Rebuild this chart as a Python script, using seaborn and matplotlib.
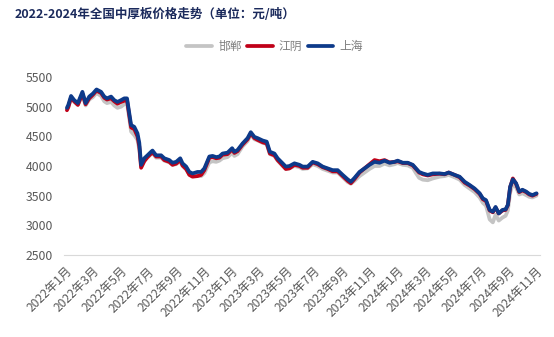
import matplotlib
matplotlib.use("Agg")
import matplotlib.pyplot as plt
import seaborn as sns
import pandas as pd

dates = [
    "2022-01-04", "2022-01-07", "2022-01-13", "2022-01-20", "2022-01-28", "2022-02-07", "2022-02-14", "2022-02-22",
    "2022-03-02", "2022-03-10", "2022-03-20", "2022-03-27", "2022-04-02", "2022-04-11", "2022-04-18", "2022-04-25",
    "2022-05-03", "2022-05-10", "2022-05-16", "2022-05-21", "2022-05-25", "2022-06-01", "2022-06-08", "2022-06-12",
    "2022-06-16", "2022-06-23", "2022-06-30", "2022-07-08", "2022-07-11", "2022-07-19", "2022-07-30", "2022-08-06",
    "2022-08-17", "2022-08-24", "2022-09-01", "2022-09-10", "2022-09-15", "2022-09-23", "2022-09-30", "2022-10-07",
    "2022-10-18", "2022-10-26", "2022-11-02", "2022-11-13", "2022-11-20", "2022-11-28", "2022-12-05", "2022-12-12",
    "2022-12-23", "2023-01-02", "2023-01-07", "2023-01-14", "2023-01-25", "2023-02-05", "2023-02-12", "2023-02-20",
    "2023-02-27", "2023-03-10", "2023-03-19", "2023-03-26", "2023-04-05", "2023-04-12", "2023-04-23", "2023-04-30",
    "2023-05-08", "2023-05-19", "2023-05-30", "2023-06-06", "2023-06-17", "2023-06-28", "2023-07-09", "2023-07-20",
    "2023-07-31", "2023-08-11", "2023-08-22", "2023-09-02", "2023-09-13", "2023-09-20", "2023-09-28", "2023-10-09",
    "2023-10-20", "2023-10-31", "2023-11-11", "2023-11-22", "2023-12-03", "2023-12-14", "2023-12-25", "2024-01-01",
    "2024-01-12", "2024-01-23", "2024-02-03", "2024-02-10", "2024-02-17", "2024-02-25", "2024-03-07", "2024-03-18",
    "2024-04-02", "2024-04-13", "2024-04-22", "2024-05-05", "2024-05-16", "2024-05-27", "2024-06-07", "2024-06-18",
    "2024-06-29", "2024-07-06", "2024-07-13", "2024-07-21", "2024-07-28", "2024-08-03", "2024-08-10", "2024-08-18",
    "2024-08-25", "2024-08-30", "2024-09-04", "2024-09-10", "2024-09-17", "2024-09-24", "2024-10-01", "2024-10-09",
    "2024-10-16", "2024-10-23", "2024-11-01",
]

shanghai = [
    4980, 5030, 5180, 5110, 5060, 5250, 5060, 5170, 5220, 5290, 5250, 5170, 5140, 5170, 5110, 5080,
    5110, 5140, 5140, 4890, 4690, 4660, 4550, 4390, 4020, 4130, 4180, 4240, 4260, 4180, 4180, 4130,
    4100, 4055, 4070, 4130, 4045, 3990, 3900, 3875, 3900, 3900, 3960, 4160, 4170, 4150, 4160, 4210,
    4225, 4300, 4240, 4270, 4380, 4470, 4570, 4490, 4470, 4430, 4410, 4240, 4210, 4130, 4045, 3990,
    4000, 4045, 4020, 3990, 3990, 4070, 4045, 3990, 3960, 3930, 3930, 3850, 3775, 3735, 3800, 3900,
    3960, 4020, 4070, 4055, 4090, 4055, 4070, 4090, 4055, 4055, 4020, 3960, 3900, 3875, 3850, 3875,
    3875, 3865, 3890, 3850, 3820, 3735, 3680, 3620, 3540, 3455, 3425, 3260, 3230, 3310, 3200, 3260,
    3270, 3345, 3650, 3775, 3710, 3570, 3600, 3570, 3530, 3510, 3540,
]

jiangyin = [
    4940, 4990, 5150, 5090, 5030, 5220, 5040, 5140, 5200, 5270, 5230, 5150, 5120, 5140, 5090, 5050,
    5080, 5100, 5110, 4850, 4650, 4620, 4500, 4330, 3970, 4080, 4150, 4210, 4230, 4160, 4160, 4100,
    4070, 4020, 4040, 4100, 4010, 3950, 3850, 3820, 3830, 3850, 3930, 4140, 4150, 4130, 4140, 4190,
    4200, 4280, 4220, 4250, 4360, 4450, 4550, 4470, 4440, 4400, 4380, 4210, 4180, 4100, 4010, 3950,
    3960, 4020, 4000, 3970, 3970, 4060, 4030, 3980, 3950, 3910, 3910, 3830, 3750, 3710, 3780, 3890,
    3960, 4030, 4100, 4080, 4100, 4060, 4070, 4080, 4050, 4050, 4010, 3950, 3890, 3860, 3840, 3860,
    3870, 3860, 3890, 3850, 3810, 3720, 3670, 3610, 3530, 3440, 3410, 3250, 3220, 3300, 3200, 3250,
    3260, 3340, 3640, 3790, 3700, 3560, 3590, 3560, 3520, 3500, 3530,
]

handan = [
    4960, 5000, 5150, 5080, 5030, 5200, 5020, 5120, 5160, 5230, 5180, 5090, 5060, 5080, 5020, 4980,
    5000, 5040, 5060, 4800, 4580, 4520, 4440, 4280, 4000, 4100, 4140, 4200, 4220, 4140, 4140, 4090,
    4060, 4020, 4030, 4080, 4000, 3940, 3860, 3830, 3840, 3830, 3880, 4060, 4080, 4070, 4090, 4130,
    4150, 4220, 4170, 4200, 4330, 4420, 4530, 4450, 4430, 4390, 4370, 4200, 4170, 4090, 4000, 3950,
    3960, 4000, 3980, 3950, 3960, 4030, 4000, 3950, 3920, 3890, 3890, 3810, 3730, 3700, 3750, 3830,
    3890, 3950, 4000, 4000, 4040, 4010, 4030, 4050, 4020, 4010, 3970, 3880, 3800, 3770, 3760, 3790,
    3820, 3830, 3850, 3810, 3770, 3680, 3620, 3560, 3470, 3380, 3330, 3100, 3050, 3180, 3080, 3130,
    3160, 3250, 3550, 3700, 3640, 3520, 3540, 3510, 3480, 3470, 3500,
]

series_names = ["邯郸", "江阴", "上海"]
series_colors = ["#C4C4C4", "#C00018", "#0D3A8A"]
tick_months = ["2022-01", "2022-03", "2022-05", "2022-07", "2022-09", "2022-11",
               "2023-01", "2023-03", "2023-05", "2023-07", "2023-09", "2023-11",
               "2024-01", "2024-03", "2024-05", "2024-07", "2024-09", "2024-11"]
tick_labels = ["2022年1月", "2022年3月", "2022年5月", "2022年7月", "2022年9月", "2022年11月",
               "2023年1月", "2023年3月", "2023年5月", "2023年7月", "2023年9月", "2023年11月",
               "2024年1月", "2024年3月", "2024年5月", "2024年7月", "2024年9月", "2024年11月"]
y_ticks = [2500, 3000, 3500, 4000, 4500, 5000, 5500]
title = "2022-2024年全国中厚板价格走势（单位：元/吨）"

sns.set_style("white")
plt.rcParams["font.family"] = ["Noto Sans CJK SC", "DejaVu Sans"]

frames = []
for name, vals in zip(series_names, [handan, jiangyin, shanghai]):
    frames.append(pd.DataFrame({"date": pd.to_datetime(dates), "price": vals, "city": name}))
df = pd.concat(frames, ignore_index=True)

fig = plt.figure(figsize=(5.54, 3.37), dpi=100)
ax = fig.add_axes([0.1159, 0.2433, 0.8583, 0.5282])

sns.lineplot(data=df, x="date", y="price", hue="city", hue_order=series_names,
             palette=dict(zip(series_names, series_colors)), linewidth=2.7,
             ax=ax, legend=False)

ax.set_xlim(pd.Timestamp("2021-12-29"), pd.Timestamp("2024-11-08"))
ax.set_ylim(2500, 5500)
ax.set_yticks(y_ticks)
ax.set_yticklabels([str(v) for v in y_ticks], fontsize=8.8, color="#595959")
ax.set_xticks(pd.to_datetime(tick_months))
ax.set_xticklabels(tick_labels, rotation=45, ha="right", rotation_mode="anchor",
                   fontsize=8.7, color="#595959")
ax.tick_params(axis="x", length=4, color="#D9D9D9", width=0.8, pad=3)
ax.tick_params(axis="y", length=0, pad=8)
ax.set_xlabel("")
ax.set_ylabel("")
for s in ["left", "top", "right"]:
    ax.spines[s].set_visible(False)
ax.spines["bottom"].set_color("#D9D9D9")
ax.spines["bottom"].set_linewidth(0.8)
ax.grid(False)

handles = [plt.Line2D([0], [0], color=c, linewidth=2.7) for c in series_colors]
fig.legend(handles, series_names, loc="center", bbox_to_anchor=(0.4955, 0.861), ncol=3,
           frameon=False, fontsize=8.5, handlelength=2.2, columnspacing=0.45,
           handletextpad=0.5, labelcolor="#7F7F7F")

fig.text(0.027, 0.958, title, fontsize=9, fontweight="bold", color="#1B2A5C",
         ha="left", va="center")

fig.savefig("out.png", dpi=100)
